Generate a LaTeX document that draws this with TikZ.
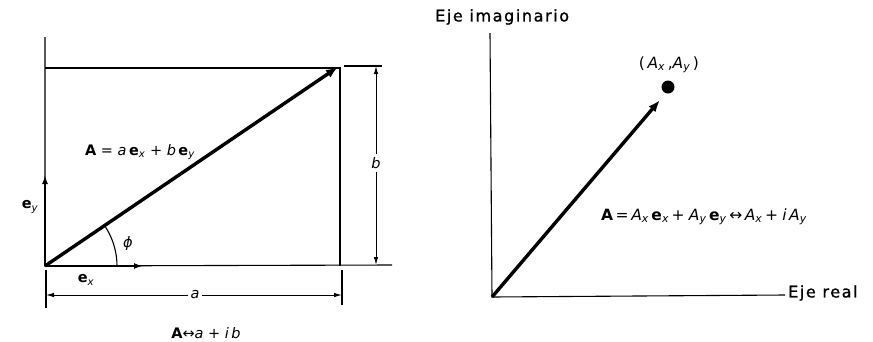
\documentclass[tikz,border=0pt]{standalone}
\usepackage{fontspec}
\setmainfont{DejaVu Sans}
\newfontfamily\axisfont[LetterSpace=10,FakeBold=1.2]{DejaVu Sans}
\usetikzlibrary{arrows.meta}
\newcommand\bv[1]{\textbf{#1}}
\newcommand\iv[1]{\textit{#1}}
\newcommand\sbx[1]{\textsubscript{\textit{#1}}}
\tikzset{
  thinln/.style={line width=1.1pt},
  mainvec/.style={line width=3.4pt,-{Latex[length=12pt,width=9pt]}},
  unitvec/.style={line width=1.8pt,-{Latex[length=9pt,width=6pt]}},
  dimarr/.style={line width=1pt,{Latex[length=8pt,width=4.5pt]}-{Latex[length=8pt,width=4.5pt]}},
  mathlbl/.style={font=\fontsize{14.5}{16}\selectfont, inner sep=1pt},
  biglbl/.style={font=\fontsize{15.5}{17}\selectfont, inner sep=1pt},
  axislbl/.style={font=\fontsize{16}{18}\selectfont\axisfont, inner sep=0pt},
}
\begin{document}
\begin{tikzpicture}[x=1pt,y=1pt]
\useasboundingbox (0,0) rectangle (873,-341);
% ---------- left diagram ----------
\coordinate (O) at (45,-266);
\coordinate (P) at (338,-67);
\coordinate (Ltop) at (45,-37);
\coordinate (TL) at (45,-68);
\coordinate (TR) at (340,-68);
\coordinate (BR) at (340,-266);
\coordinate (Bend) at (392,-265);
\coordinate (ExtA) at (344,-66);
\coordinate (ExtB) at (382,-66);
\coordinate (bT) at (376,-66);
\coordinate (bB) at (376,-265);
\coordinate (aL) at (46,-295);
\coordinate (aR) at (342,-295);
\coordinate (eL1) at (46,-270);
\coordinate (eL2) at (46,-308);
\coordinate (eR1) at (342,-270);
\coordinate (eR2) at (342,-305);
\coordinate (EY) at (45,-175);
\coordinate (EX) at (143,-266);

\draw[thinln] (Ltop) -- (O) -- (Bend);
\draw[thinln] (TL) -- (TR) -- (BR);
\draw[thinln] (ExtA) -- (ExtB);
\draw[thinln] (eL1) -- (eL2);
\draw[thinln] (eR1) -- (eR2);
\draw[dimarr] (bT) -- (bB);
\draw[dimarr] (aL) -- (aR);
\node[mathlbl, fill=white, inner sep=3pt] (lb) at (376,-163) {\iv{b}};
\node[mathlbl, fill=white, inner sep=3pt] (la) at (195,-295) {\iv{a}};
\draw[unitvec] (O) -- (EY);
\draw[unitvec] (O) -- (EX);
\draw[thinln] ([shift={(O)}]0:72) arc[start angle=0,end angle=34.2,radius=72];
\draw[mainvec] (O) -- (P);
\node[mathlbl] (ley) at (30,-207) {\bv{e}\sbx{y}};
\node[mathlbl] (lex) at (86,-280) {\bv{e}\sbx{x}};
\node[mathlbl] (lphi) at (128,-243) {\iv{ϕ}};
\node[mathlbl] (lA) at (140,-152) {\bv{A} = \iv{a}\,\bv{e}\sbx{x} + \iv{b}\,\bv{e}\sbx{y}};
\node[mathlbl] (lAb) at (206,-333) {\bv{A}↔\iv{a} + \iv{i}\,\iv{b}};
% ---------- right diagram ----------
\coordinate (R) at (492,-297);
\coordinate (Rtop) at (490,-33);
\coordinate (Rend) at (785,-295);
\coordinate (Q) at (660,-100);
\draw[thinln] (Rtop) -- (R) -- (Rend);
\draw[mainvec] (R) -- (Q);
\node[circle, fill=black, minimum size=13pt, inner sep=0pt] (dot) at (668,-87) {};
\node[axislbl, anchor=west] (lre) at (788,-293) {Eje real};
\node[axislbl, anchor=west] (lim) at (435,-17) {Eje imaginario};
\node[biglbl] (lpt) at (669,-65) {(\,\iv{A}\sbx{x}\,,\iv{A}\sbx{y}\,)};
\node[biglbl] (leq) at (704,-217) {\bv{A}\,=\,\iv{A}\sbx{x}\,\bv{e}\sbx{x}\,+\;\iv{A}\sbx{y}\,\bv{e}\sbx{y}\,↔\,\iv{A}\sbx{x}\,+\;\iv{i}\,\iv{A}\sbx{y}};
\end{tikzpicture}
\end{document}
